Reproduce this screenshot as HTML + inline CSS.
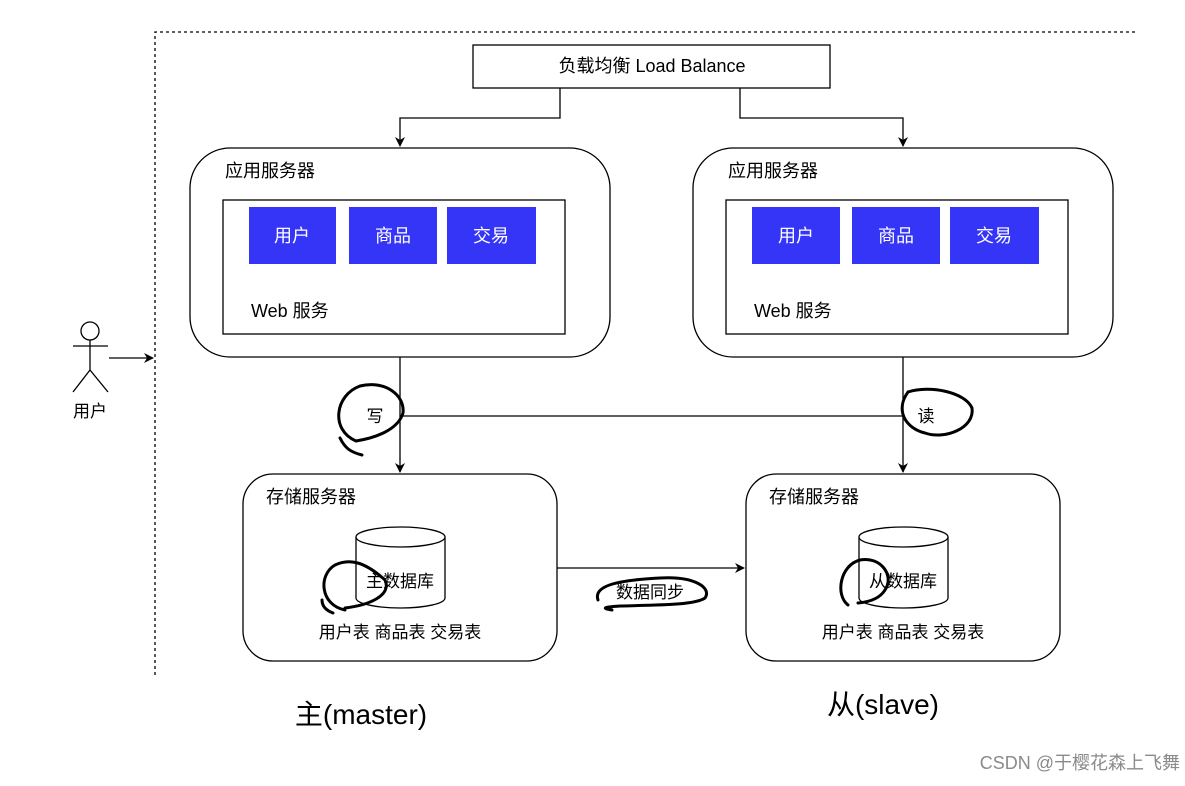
<!DOCTYPE html>
<html><head><meta charset="utf-8"><style>
html,body{margin:0;padding:0;background:#fff;}
svg text{font-family:"Liberation Sans","Noto Sans CJK SC",sans-serif;}
</style></head><body>
<svg width="1185" height="781" viewBox="0 0 1185 781" xmlns="http://www.w3.org/2000/svg">
<defs><marker id="a" markerWidth="10" markerHeight="10" refX="9" refY="5" orient="auto" markerUnits="userSpaceOnUse"><path d="M0,0 L10,5 L0,10 L3,5 Z" fill="#000"/></marker></defs>
<rect width="1185" height="781" fill="#fff"/>
<path d="M155,675 V32 H1137" fill="none" stroke="#000" stroke-width="1.3" stroke-dasharray="3,3"/>
<rect x="473" y="45" width="357" height="43" fill="#fff" stroke="#000" stroke-width="1.3"/>
<text x="652" y="72" font-size="18" text-anchor="middle">负载均衡 Load Balance</text>
<path d="M560,88 V118 H400 V146" fill="none" stroke="#000" stroke-width="1.3" marker-end="url(#a)"/>
<path d="M740,88 V118 H903 V146" fill="none" stroke="#000" stroke-width="1.3" marker-end="url(#a)"/>
<g stroke="#000" stroke-width="1.3" fill="#fff">
<rect x="190" y="148" width="420" height="209" rx="40"/>
<rect x="693" y="148" width="420" height="209" rx="40"/>
<rect x="223" y="200" width="342" height="134"/>
<rect x="726" y="200" width="342" height="134"/>
<rect x="243" y="474" width="314" height="187" rx="30"/>
<rect x="746" y="474" width="314" height="187" rx="30"/>
</g>
<g fill="#3535f8">
<rect x="249" y="207" width="87" height="57"/><rect x="349" y="207" width="88" height="57"/><rect x="447" y="207" width="89" height="57"/>
<rect x="752" y="207" width="88" height="57"/><rect x="852" y="207" width="88" height="57"/><rect x="950" y="207" width="89" height="57"/>
</g>
<g fill="#fff" font-size="18" text-anchor="middle">
<text x="292" y="242">用户</text><text x="393" y="242">商品</text><text x="491" y="242">交易</text>
<text x="796" y="242">用户</text><text x="896" y="242">商品</text><text x="994" y="242">交易</text>
</g>
<g font-size="18">
<text x="225" y="177">应用服务器</text><text x="728" y="177">应用服务器</text>
<text x="251" y="317">Web 服务</text><text x="754" y="317">Web 服务</text>
<text x="266" y="503">存储服务器</text><text x="769" y="503">存储服务器</text>
</g>
<path d="M400,357 V472" fill="none" stroke="#000" stroke-width="1.3" marker-end="url(#a)"/>
<path d="M903,357 V472" fill="none" stroke="#000" stroke-width="1.3" marker-end="url(#a)"/>
<path d="M400,416 H903" stroke="#000" stroke-width="1.3"/>
<path d="M557,568 H744" fill="none" stroke="#000" stroke-width="1.3" marker-end="url(#a)"/>
<g stroke="#000" stroke-width="1.3" fill="#fff">
<path d="M356,537 V598 A44.5,10 0 0 0 445,598 V537"/><ellipse cx="400.5" cy="537" rx="44.5" ry="10"/>
<path d="M859,537 V598 A44.5,10 0 0 0 948,598 V537"/><ellipse cx="903.5" cy="537" rx="44.5" ry="10"/>
</g>
<g font-size="17" text-anchor="middle">
<text x="400" y="587">主数据库</text><text x="903" y="587">从数据库</text>
<text x="400" y="638">用户表 商品表 交易表</text><text x="903" y="638">用户表 商品表 交易表</text>
<text x="650" y="598">数据同步</text>
<text x="375" y="422">写</text><text x="926" y="422">读</text>
</g>
<g fill="none" stroke="#000" stroke-width="3" stroke-linecap="round">
<path d="M356,441 C330,430 335,395 360,386 C385,380 405,395 403,413 C398,430 375,438 356,441 M362,455 C350,452 345,448 340,438"/>
<path d="M908,392 C930,385 965,392 972,408 C975,428 945,440 925,433 C905,428 895,410 908,392"/>
<path d="M345,610 C320,605 318,575 335,565 C350,558 365,562 385,580 C392,595 370,605 345,608 M333,613 C325,610 322,605 322,600"/>
<path d="M848,605 C835,595 840,565 860,560 C880,556 895,575 885,590 C880,598 870,602 858,603"/>
<path d="M598,600 C593,585 620,580 660,578 C695,576 712,588 705,598 C695,605 660,605 620,606 C605,607 600,608 612,610"/>
</g>
<g stroke="#000" stroke-width="1.3" fill="#fff">
<circle cx="90" cy="331" r="9"/>
<path d="M90,340 V370 M73,346 H108 M90,370 L73,392 M90,370 L108,392" fill="none"/>
</g>
<path d="M109,358 H153" fill="none" stroke="#000" stroke-width="1.3" marker-end="url(#a)"/>
<text x="90" y="417" font-size="17" text-anchor="middle">用户</text>
<text x="361" y="724" font-size="28" text-anchor="middle">主(master)</text>
<text x="883" y="714" font-size="28" text-anchor="middle">从(slave)</text>
<text x="1180" y="769" font-size="18" text-anchor="end" fill="#8a8a8a">CSDN @于樱花森上飞舞</text>
</svg>
</body></html>
